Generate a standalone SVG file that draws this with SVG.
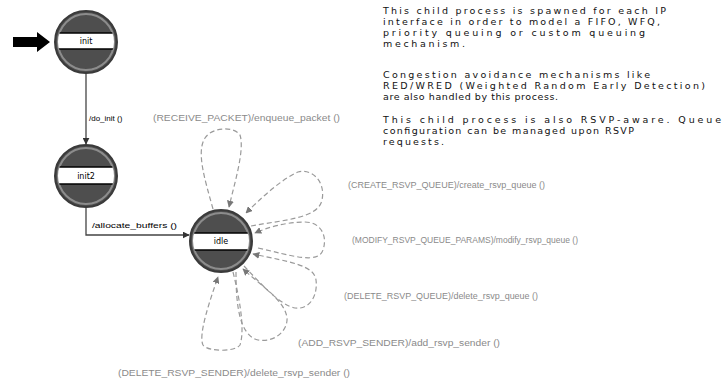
<svg xmlns="http://www.w3.org/2000/svg" width="724" height="383" viewBox="0 0 724 383">
<defs>
<style>
.ring{fill:#4e4e4e;stroke:#3a3a3a;stroke-width:2}
.inner{fill:none;stroke:#8c8c8c;stroke-width:2}
.band{fill:#fff;stroke:none}
.bline{stroke:#000;stroke-width:1.6}
.nlabel{font-family:"DejaVu Sans",sans-serif;font-size:8px;fill:#000;text-anchor:middle}
.tr{fill:none;stroke:#444;stroke-width:1.3}
.loop{fill:none;stroke:#9a9a9a;stroke-width:1.2;stroke-dasharray:5 3}
.tlabel{font-family:"Liberation Sans",sans-serif;font-size:8px;fill:#000}
.llabel{font-family:"Liberation Sans",sans-serif;font-size:8.5px;fill:#8a8a8a}
.cm{font-family:"DejaVu Sans",sans-serif;font-size:9.5px;fill:#111}
</style>
<marker id="ah" viewBox="0 0 10 10" refX="9" refY="5" markerWidth="7" markerHeight="7" orient="auto" markerUnits="userSpaceOnUse">
<path d="M0,0 L10,5 L0,10 z" fill="#333"/>
</marker>
<marker id="lh" viewBox="0 0 10 10" refX="9" refY="5" markerWidth="7" markerHeight="7" orient="auto" markerUnits="userSpaceOnUse">
<path d="M0,0 L10,5 L0,10 z" fill="#777"/>
</marker>
<clipPath id="c1"><circle cx="86" cy="42" r="28"/></clipPath>
<clipPath id="c2"><circle cx="86" cy="176" r="28"/></clipPath>
<clipPath id="c3"><circle cx="221" cy="241" r="28"/></clipPath>
</defs>
<rect width="724" height="383" fill="#fff"/>

<g id="connectors">
<polygon points="13,37 37,37 37,32 50,42 37,52 37,47 13,47" fill="#000"/>
<line class="tr" x1="86" y1="73" x2="86" y2="144" marker-end="url(#ah)"/>
<text class="tlabel" x="89" y="121">/do_init ()</text>
<polyline class="tr" points="86,207 86,235 189,235" marker-end="url(#ah)"/>
<text class="tlabel" x="92" y="228" textLength="85" lengthAdjust="spacingAndGlyphs">/allocate_buffers ()</text>

<path class="loop" marker-end="url(#lh)" d="M213,209 C205,180 196,152 205,138 C212,127 234,126 240,135 C245,150 234,185 229,207"/>
<path class="loop" marker-end="url(#lh)" d="M251,226 C282,220 318,219 322,200 C326,181 311,168 298,172 C280,180 259,200 246,213"/>
<path class="loop" marker-end="url(#lh)" d="M258,248 C290,255 318,265 323,250 C328,235 320,222 305,222 C285,222 266,228 255,233"/>
<path class="loop" marker-end="url(#lh)" d="M244,266 C262,285 280,305 295,308 C310,310 318,295 316,280 C314,265 290,262 253,254"/>
<path class="loop" marker-end="url(#lh)" d="M236,272 C236,300 238,335 258,340 C275,343 288,330 287,318 C285,300 260,285 243,269"/>
<path class="loop" marker-end="url(#lh)" d="M233,272 C240,300 245,330 240,345 C235,352 208,352 203,345 C198,335 210,300 218,277"/>

<text class="llabel" x="153" y="121" textLength="187" lengthAdjust="spacingAndGlyphs">(RECEIVE_PACKET)/enqueue_packet ()</text>
<text class="llabel" x="348" y="188" textLength="197" lengthAdjust="spacingAndGlyphs">(CREATE_RSVP_QUEUE)/create_rsvp_queue ()</text>
<text class="llabel" x="352" y="243" textLength="226" lengthAdjust="spacingAndGlyphs">(MODIFY_RSVP_QUEUE_PARAMS)/modify_rsvp_queue ()</text>
<text class="llabel" x="344" y="299" textLength="194" lengthAdjust="spacingAndGlyphs">(DELETE_RSVP_QUEUE)/delete_rsvp_queue ()</text>
<text class="llabel" x="298" y="346" textLength="202" lengthAdjust="spacingAndGlyphs">(ADD_RSVP_SENDER)/add_rsvp_sender ()</text>
<text class="llabel" x="118" y="376" textLength="232" lengthAdjust="spacingAndGlyphs">(DELETE_RSVP_SENDER)/delete_rsvp_sender ()</text>
</g>

<g id="node-init">
<circle class="ring" cx="86" cy="42" r="31"/>
<circle class="inner" cx="86" cy="42" r="28"/>
<g clip-path="url(#c1)"><rect class="band" x="55" y="33" width="62" height="16"/>
<line class="bline" x1="55" y1="33" x2="117" y2="33"/><line class="bline" x1="55" y1="49" x2="117" y2="49"/></g>
<text class="nlabel" x="86" y="44">init</text>
</g>

<g id="node-init2">
<circle class="ring" cx="86" cy="176" r="31"/>
<circle class="inner" cx="86" cy="176" r="28"/>
<g clip-path="url(#c2)"><rect class="band" x="55" y="167" width="62" height="17"/>
<line class="bline" x1="55" y1="167" x2="117" y2="167"/><line class="bline" x1="55" y1="184" x2="117" y2="184"/></g>
<text class="nlabel" x="86" y="179">init2</text>
</g>

<g id="node-idle">
<circle class="ring" cx="221" cy="241" r="31"/>
<circle class="inner" cx="221" cy="241" r="28"/>
<g clip-path="url(#c3)"><rect class="band" x="190" y="233" width="62" height="17"/>
<line class="bline" x1="190" y1="233" x2="252" y2="233"/><line class="bline" x1="190" y1="250" x2="252" y2="250"/></g>
<text class="nlabel" x="221" y="244">idle</text>
</g>

<g id="comment">
<text class="cm" x="383" y="14" textLength="283" lengthAdjust="spacing">This child process is spawned for each IP</text>
<text class="cm" x="383" y="25" textLength="277" lengthAdjust="spacing">interface in order to model a FIFO, WFQ,</text>
<text class="cm" x="383" y="36" textLength="262" lengthAdjust="spacing">priority queuing or custom queuing</text>
<text class="cm" x="383" y="47" textLength="82" lengthAdjust="spacing">mechanism.</text>
<text class="cm" x="383" y="78" textLength="267" lengthAdjust="spacing">Congestion avoidance mechanisms like</text>
<text class="cm" x="383" y="89" textLength="322" lengthAdjust="spacing">RED/WRED (Weighted Random Early Detection)</text>
<text class="cm" x="383" y="100" textLength="175" lengthAdjust="spacing">are also handled by this process.</text>
<text class="cm" x="383" y="123" textLength="338" lengthAdjust="spacing">This child process is also RSVP-aware. Queue</text>
<text class="cm" x="383" y="134" textLength="251" lengthAdjust="spacing">configuration can be managed upon RSVP</text>
<text class="cm" x="383" y="145" textLength="61" lengthAdjust="spacing">requests.</text>
</g>
</svg>
